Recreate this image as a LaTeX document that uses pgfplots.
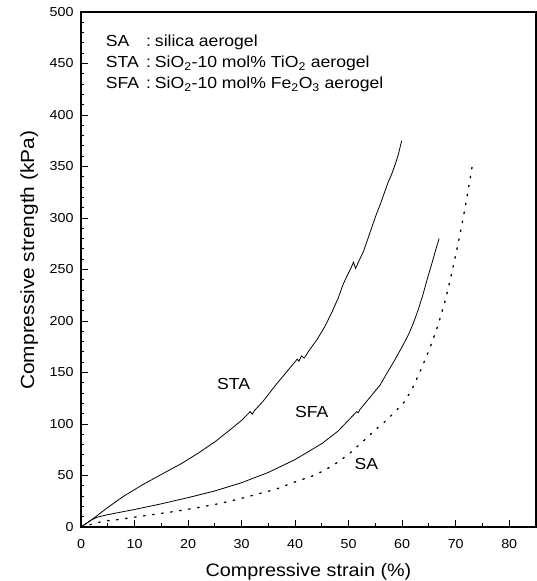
\documentclass[border=0pt]{standalone}
\usepackage{pgfplots}
\pgfplotsset{compat=1.18}
\usepackage{fontspec}
\setmainfont[FakeStretch=1.1]{Liberation Sans}

\begin{document}
\begin{tikzpicture}
\useasboundingbox (-81pt,-54pt) rectangle (456pt,527pt);
\begin{axis}[
    at={(0,0)}, anchor=south west,
    scale only axis,
    width=455pt, height=515pt,
    xmin=0, xmax=85,
    ymin=0, ymax=500,
    xtick={0,10,...,80},
    ytick={0,50,...,500},
    minor x tick num=1,
    minor y tick num=4,
    tick pos=left,
    tick align=inside,
    major tick length=7pt,
    minor tick length=3.5pt,
    axis line style={line width=1.1pt},
    every tick/.style={black, line width=0.9pt},
    /pgf/number format/assume math mode=true,
    tick label style={font=\fontsize{13}{15}\selectfont},
    xticklabel shift=9pt,
    yticklabel shift=4pt,
    xlabel={Compressive strain (\%)},
    ylabel={Compressive strength (kPa)},
    x label style={font=\fontsize{18}{21}\selectfont, at={(axis description cs:0.5,-0.087)}, anchor=center},
    y label style={font=\fontsize{19}{22}\selectfont, at={(axis description cs:-0.114,0.518)}, anchor=center},
]

% STA
\addplot[black, line width=0.8pt] coordinates {
(0,0)(2,7)(5,19)(8,30)(11.5,41)(15,51)(18.9,62)(22,72)(25.1,83)(28,95)
(30.1,104)(31.6,112)(32,109.5)(32.4,113)(34,122)(36.4,138)(38.8,153)(40.4,163)
(40.7,161)(41.2,166)(41.7,164)(42.7,172)(44.1,182)(45.6,195)(47,210)(48.1,223)
(49,236)(50,247)(50.4,251)(50.9,257)(51.3,251)(51.9,258)(52.8,268)(53.6,280)
(54.4,292)(55.2,304)(55.9,313)(56.5,322)(57.4,335)(58,342)(58.7,352)(59.3,362)
(59.9,375)
};

% SFA
\addplot[black, line width=0.8pt] coordinates {
(0,0)(1,3.5)(2,7)(3,9.5)(5,12)(7.5,14.5)(10,17)(15,22.5)(20,28.5)(25,35)
(30,43)(35,53)(40,65.5)(45,81)(48,93)(51.5,112)(51.8,111)(52.1,114)(54,126)
(55.9,138)(57.1,149)(58.6,162)(60.2,177)(61.2,187)(62.1,198)(63,211)(63.9,226)
(64.7,241)(65.5,255)(66.2,268)(66.9,280)
};

% SA
\addplot[black, line width=1.3pt, line cap=round, dash pattern=on 1.6pt off 7.5pt] coordinates {
(0,0)(1.5,2)(3,4)(4.5,6)(6,6.5)(8,8)(10.6,10)(14,12.5)(17.7,15.2)(22,19)
(26.4,23.3)(30.1,28)(33,32)(36.3,36.5)(40.6,45)(43,49)(45.5,55)(48,63)(50.1,71)
(52,80)(53.5,87)(55,94.5)(56.5,101)(58.7,112)(60.5,122)(62.1,136.6)(63.6,154)
(65.2,174)(66.7,196)(68,219)(69.2,245)(70.4,274)(71.4,300)(72.3,326)(73.2,354)
};

\node[font=\fontsize{16}{19}\selectfont] at (axis cs:28.5,139) {STA};
\node[font=\fontsize{16}{19}\selectfont] at (axis cs:43.1,112) {SFA};
\node[font=\fontsize{16}{19}\selectfont] at (axis cs:53.3,61.5) {SA};

\node[anchor=north west, inner sep=0pt, font=\fontsize{16}{21}\selectfont]
  at (axis cs:4.6,481) {%
  \begin{tabular}{@{}l@{\hspace{7pt}}l@{\hspace{4pt}}l@{}}
  SA & : & silica aerogel\\
  STA & : & SiO\textsubscript{2}-10 mol\% TiO\textsubscript{2} aerogel\\
  SFA & : & SiO\textsubscript{2}-10 mol\% Fe\textsubscript{2}O\textsubscript{3} aerogel
  \end{tabular}};
\end{axis}
\end{tikzpicture}
\end{document}
